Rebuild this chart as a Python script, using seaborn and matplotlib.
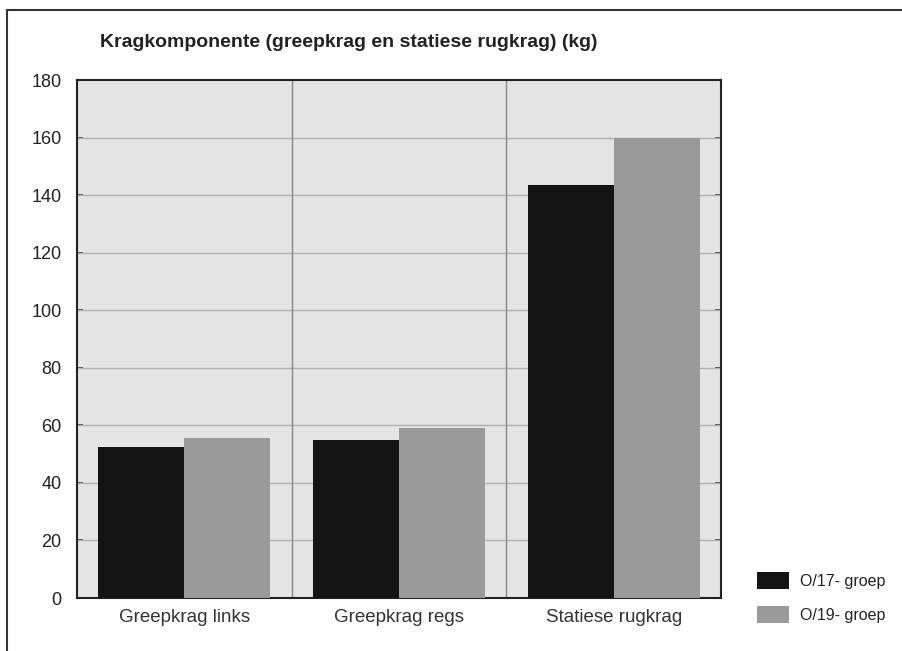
import matplotlib
matplotlib.use("Agg")
import matplotlib.pyplot as plt
import matplotlib.lines as mlines
import matplotlib.patches as mpatches
import pandas as pd
import seaborn as sns

categories = ["Greepkrag links", "Greepkrag regs", "Statiese rugkrag"]
groups = ["O/17- groep", "O/19- groep"]
o17_values = [52.5, 55.0, 143.5]
o19_values = [55.6, 59.1, 160.0]
y_ticks = [0, 20, 40, 60, 80, 100, 120, 140, 160, 180]
title = "Kragkomponente (greepkrag en statiese rugkrag) (kg)"

df = pd.DataFrame({
    "kategorie": categories * 2,
    "groep": [groups[0]] * 3 + [groups[1]] * 3,
    "waarde": o17_values + o19_values,
})

sns.set_theme(style="white")
plt.rcParams["font.family"] = ["Liberation Sans Narrow", "Liberation Sans", "DejaVu Sans"]

palette = {groups[0]: "#141414", groups[1]: "#9a9a9a"}

fig = plt.figure(figsize=(9.03, 6.51), dpi=100)
ax = fig.add_axes([0.0853, 0.0814, 0.7132, 0.7957])
ax.set_facecolor("#e4e4e4")

sns.barplot(data=df, x="kategorie", y="waarde", hue="groep", palette=palette,
            width=0.8, saturation=1, ax=ax, legend=False, zorder=3,
            linewidth=0)

ax.set_xlim(-0.5, 2.5)
ax.set_ylim(0, 180)
ax.set_yticks(y_ticks)
ax.set_yticklabels([str(v) for v in y_ticks], fontsize=13, color="#222222")
ax.tick_params(axis="x", labelsize=13.5, colors="#333333", length=0, pad=8)
ax.tick_params(axis="y", direction="in", length=4, width=1.2, right=True,
               left=True, color="#333333", pad=11)
ax.set_xlabel("")
ax.set_ylabel("")

for yv in y_ticks[1:-1]:
    ax.axhline(yv, color="#b0b0b0", linewidth=1, zorder=1)
for xv in [0.5, 1.5]:
    ax.axvline(xv, color="#888888", linewidth=1, zorder=1)

for side in ["left", "right", "top", "bottom"]:
    ax.spines[side].set_visible(True)
    ax.spines[side].set_color("#222222")
    ax.spines[side].set_linewidth(1.5)

fig.text(0.111, 0.935, title, fontsize=14, fontweight="bold", color="#222222",
         va="center", ha="left")

# legend, placed to the lower right beside the plot area
handles = [mpatches.Patch(facecolor=palette[g], edgecolor="none", label=g) for g in groups]
fig.legend(handles=handles, loc="center left", bbox_to_anchor=(0.822, 0.082),
           frameon=False, fontsize=11.5, handlelength=2.0, handleheight=1.3,
           handletextpad=0.7, labelspacing=1.05, labelcolor="#222222")

# outer frame lines
fig.add_artist(mlines.Line2D([0.008, 1.0], [0.985, 0.985], color="#333333", linewidth=1.5))
fig.add_artist(mlines.Line2D([0.008, 0.008], [0.0, 0.985], color="#333333", linewidth=1.5))

fig.savefig("out.png", dpi=100, facecolor="white")
